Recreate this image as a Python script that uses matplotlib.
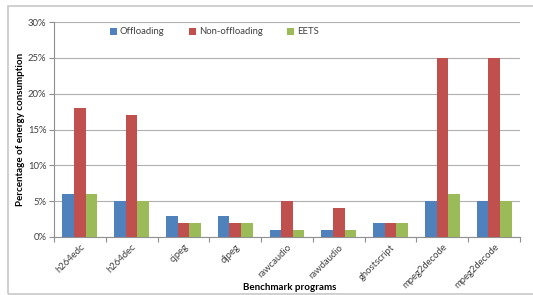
import matplotlib
matplotlib.use("Agg")
import matplotlib.pyplot as plt
import numpy as np
from matplotlib.patches import Rectangle

categories = ["h264edc", "h264dec", "cjpeg", "djpeg", "rawcaudio", "rawdaudio",
              "ghostscript", "mpeg2decode", "mpeg2decode"]
offloading = [6, 5, 3, 3, 1, 1, 2, 5, 5]
non_offloading = [18, 17, 2, 2, 5, 4, 2, 25, 25]
eets = [6, 5, 2, 2, 1, 1, 2, 6, 5]
series_names = ["Offloading", "Non-offloading", "EETS"]
colors = ["#4F81BD", "#C0504D", "#9BBB59"]
yticks = [0, 5, 10, 15, 20, 25, 30]

plt.rcParams['font.family'] = ['Lato', 'DejaVu Sans']

W, H = 533, 295
AX_L, AX_R, AX_T, AX_B = 54, 520, 22, 237
fig = plt.figure(figsize=(W / 100, H / 100), dpi=100)
ax = fig.add_axes([AX_L / W, 1 - AX_B / H, (AX_R - AX_L) / W, (AX_B - AX_T) / H])
aw, ah = AX_R - AX_L, AX_B - AX_T

# outer chart frame
fig.patches.append(Rectangle((8 / W, 1 - 294 / H), 1.0, (294 - 6) / H,
                             transform=fig.transFigure, fill=False,
                             edgecolor="#c8c8c8", linewidth=1.2))

x = np.arange(len(categories))
bw = 0.224
for i, (vals, name, c) in enumerate(zip([offloading, non_offloading, eets], series_names, colors)):
    ax.bar(x + (i - 1) * bw, vals, width=bw, color=c, label=name, zorder=3,
           edgecolor="none")

ax.set_xlim(-0.5, len(categories) - 0.5)
ax.set_ylim(0, 30)
ax.set_yticks(yticks)
ax.set_yticklabels([f"{v}%" for v in yticks], fontsize=6.8, color="#404040")
ax.yaxis.grid(True, color="#b0b0b0", linewidth=0.8, zorder=0)
ax.set_axisbelow(True)

ax.set_xticks(x)
ax.set_xticklabels(categories, rotation=45, ha="right", va="top",
                   rotation_mode="anchor", fontsize=6.8, color="#404040")
ax.tick_params(axis="x", length=0, pad=4)
ax.set_xticks(np.arange(-0.5, len(categories), 1.0), minor=True)
ax.tick_params(axis="x", which="minor", length=3.5, color="#909090", width=0.8)
ax.tick_params(axis="y", length=3.5, color="#909090", width=0.8, pad=2)

for s in ["top", "right"]:
    ax.spines[s].set_visible(False)
for s in ["left", "bottom"]:
    ax.spines[s].set_color("#909090")
    ax.spines[s].set_linewidth(0.8)

ax.set_ylabel("Percentage of energy consumption", fontsize=7, fontweight="bold")
ax.yaxis.set_label_coords(-28.5 / aw, 0.5)
fig.text(290 / W, 1 - 287 / H, "Benchmark programs", fontsize=7,
         fontweight="bold", ha="center", va="center")

leg = ax.legend(loc="upper left", bbox_to_anchor=((110 - AX_L) / aw, 1 - 5.5 / ah),
                ncol=3, frameon=False, fontsize=6.8, handlelength=0.75,
                handleheight=0.75, handletextpad=0.3, columnspacing=2.6,
                borderaxespad=0, borderpad=0)
for t in leg.get_texts():
    t.set_color("#404040")

fig.savefig("out.png", dpi=100)
